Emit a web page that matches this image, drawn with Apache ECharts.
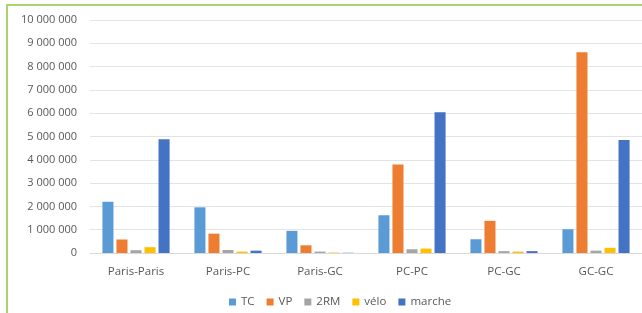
<!DOCTYPE html>
<html>
<head>
<meta charset="utf-8">
<script src="https://cdn.jsdelivr.net/npm/echarts@6/dist/echarts.min.js"></script>
<style>
  html, body { margin: 0; padding: 0; background: #fff; }
  #wrap { position: relative; width: 642px; height: 313px; overflow: hidden; }
  #frame { position: absolute; left: 6px; top: 4px; right: 0; bottom: 0;
           border-left: 2px solid #a9d46f; border-top: 2px solid #a9d46f; }
  #chart { position: absolute; left: 0; top: 0; width: 642px; height: 313px; }
</style>
</head>
<body>
<div id="wrap">
  <div id="frame"></div>
  <div id="chart"></div>
</div>
<script>
// trajets par liaison et par mode
var categories = ['Paris-Paris', 'Paris-PC', 'Paris-GC', 'PC-PC', 'PC-GC', 'GC-GC'];
var tc     = [2200000, 1960000,  950000, 1620000,  590000, 1020000];
var vp     = [ 580000,  830000,  330000, 3800000, 1380000, 8620000];
var deuxRM = [ 120000,  130000,   60000,  160000,   80000,  100000];
var velo   = [ 250000,   60000,   20000,  190000,   60000,  220000];
var marche = [4880000,  100000,   10000, 6040000,   80000, 4850000];
var yTicks = { min: 0, max: 10000000, interval: 1000000 };

var colors = ['#5b9bd5', '#ed7d31', '#a5a5a5', '#ffc000', '#4472c4'];
var names = ['TC', 'VP', '2RM', 'vélo', 'marche'];
var values = [tc, vp, deuxRM, velo, marche];

var fmt = function (v) {
  return String(v).replace(/\B(?=(\d{3})+(?!\d))/g, ' ');
};

var chart = echarts.init(document.getElementById('chart'));
chart.setOption({
  animation: false,
  textStyle: { fontFamily: 'Open Sans, sans-serif' },
  color: colors,
  // la zone de tracé déborde un peu à droite (image recadrée)
  grid: { left: 90, width: 559, top: 20, bottom: 60 },
  legend: {
    top: 291,
    left: 224,
    icon: 'rect',
    itemWidth: 7,
    itemHeight: 7,
    itemGap: 12,
    textStyle: { fontSize: 11.5, color: '#595959' },
    data: names
  },
  xAxis: {
    type: 'category',
    data: categories,
    axisLine: { lineStyle: { color: '#d9d9d9' } },
    axisTick: { show: false },
    axisLabel: { fontSize: 11.5, color: '#595959', margin: 13 }
  },
  yAxis: {
    type: 'value',
    min: yTicks.min,
    max: yTicks.max,
    interval: yTicks.interval,
    axisLine: { show: false },
    axisTick: { show: false },
    splitLine: { lineStyle: { color: '#e3e3e3' } },
    axisLabel: { fontSize: 11, color: '#595959', margin: 13, formatter: fmt }
  },
  series: names.map(function (n, i) {
    return {
      name: n,
      type: 'bar',
      data: values[i],
      barGap: '27%',
      barCategoryGap: '27%'
    };
  })
});
</script>
</body>
</html>
